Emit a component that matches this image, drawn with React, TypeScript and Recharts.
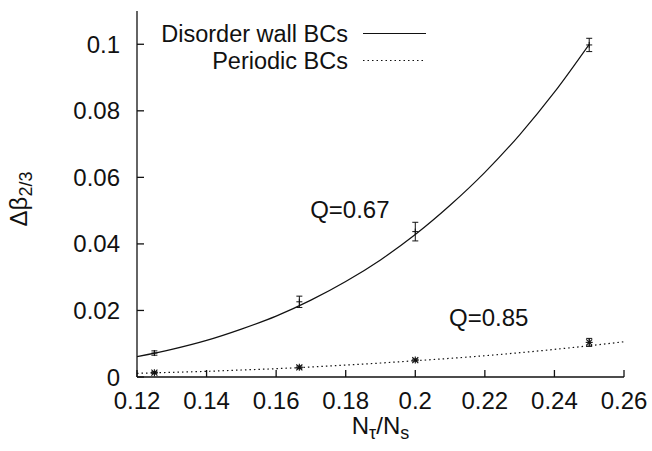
import {
  ComposedChart,
  ErrorBar,
  Label,
  Legend,
  Line,
  ReferenceDot,
  Scatter,
  XAxis,
  YAxis,
} from "recharts";

// N_tau / N_s of the simulated lattices
const latticeRatios = [0.125, 0.16667, 0.2, 0.25];

// Delta beta_{2/3} with disorder wall boundary conditions
const wallValues = [0.0072, 0.0226, 0.0437, 0.0998];
const wallErrors = [0.00065, 0.0017, 0.0028, 0.002];

// Delta beta_{2/3} with periodic boundary conditions
const periodicValues = [0.0013, 0.0029, 0.0051, 0.0104];
const periodicErrors = [0.0003, 0.0004, 0.0003, 0.0012];

// fitted curves, sampled along N_tau / N_s
const fitX = [0.12, 0.13, 0.14, 0.15, 0.16, 0.17, 0.18, 0.19, 0.2, 0.21, 0.22, 0.23, 0.24, 0.25, 0.26];
const wallFit = [0.0061, 0.0083, 0.011, 0.0144, 0.0183, 0.0231, 0.0287, 0.0352, 0.0428, 0.0516, 0.0615, 0.0728, 0.0856, 0.1];
const periodicFit = [0.0011, 0.0014, 0.0017, 0.0021, 0.0025, 0.003, 0.0036, 0.0042, 0.0049, 0.0056, 0.0064, 0.0073, 0.0083, 0.0094, 0.0106];

const xTicks = [0.12, 0.14, 0.16, 0.18, 0.2, 0.22, 0.24, 0.26];
const yTicks = [0, 0.02, 0.04, 0.06, 0.08, 0.1];

const seriesNames = ["Disorder wall BCs", "Periodic BCs"];

const fitQuality = [
  { x: 0.1812, y: 0.0477, text: "Q=0.67" },
  { x: 0.2211, y: 0.0153, text: "Q=0.85" },
];

const FONT = '"Liberation Sans", Arial, Helvetica, sans-serif';
const INK = "#111";

const wallPoints = latticeRatios.map((x, i) => ({ x, y: wallValues[i], err: wallErrors[i] }));
const periodicPoints = latticeRatios.map((x, i) => ({ x, y: periodicValues[i], err: periodicErrors[i] }));
const wallCurve = wallFit.map((y, i) => ({ x: fitX[i], y }));
const periodicCurve = periodicFit.map((y, i) => ({ x: fitX[i], y }));

const fmt = (v: number) => String(Number(v.toFixed(2)));
const blank = () => "";

function PlusMark({ cx, cy }: { cx?: number; cy?: number }) {
  if (cx == null || cy == null) return null;
  return (
    <g stroke={INK} strokeWidth={1}>
      <line x1={cx - 3} x2={cx + 3} y1={cy} y2={cy} />
      <line x1={cx} x2={cx} y1={cy - 3} y2={cy + 3} />
    </g>
  );
}

function StarMark({ cx, cy }: { cx?: number; cy?: number }) {
  if (cx == null || cy == null) return null;
  return (
    <g stroke={INK} strokeWidth={1.1}>
      <line x1={cx - 3.5} x2={cx + 3.5} y1={cy} y2={cy} />
      <line x1={cx} x2={cx} y1={cy - 3.5} y2={cy + 3.5} />
      <line x1={cx - 3} x2={cx + 3} y1={cy - 3} y2={cy + 3} />
      <line x1={cx - 3} x2={cx + 3} y1={cy + 3} y2={cy - 3} />
    </g>
  );
}

function XTitle({ viewBox }: any) {
  const cx = viewBox.x + viewBox.width / 2;
  return (
    <text x={cx} y={viewBox.y + 57} textAnchor="middle" fontFamily={FONT} fontSize={24} fill={INK}>
      N
      <tspan fontSize={18} dy={5}>τ</tspan>
      <tspan dy={-5}>/N</tspan>
      <tspan fontSize={18} dy={5}>s</tspan>
    </text>
  );
}

function YTitle({ viewBox }: any) {
  const x = viewBox.x - 50;
  const y = viewBox.y + viewBox.height / 2 + 5;
  return (
    <text
      x={x}
      y={y}
      transform={`rotate(-90, ${x}, ${y})`}
      textAnchor="middle"
      fontFamily={FONT}
      fontSize={24}
      fill={INK}
    >
      Δβ
      <tspan fontSize={18} dy={5}>2/3</tspan>
    </text>
  );
}

// gnuplot-style key: right-aligned names, line sample to the right
function KeyBox() {
  return (
    <svg width={290} height={64} style={{ display: "block" }}>
      <g fontFamily={FONT} fontSize={23.5} fill={INK} textAnchor="end">
        <text x={198} y={22}>{seriesNames[0]}</text>
        <text x={198} y={49}>{seriesNames[1]}</text>
      </g>
      <line x1={213} x2={276} y1={13.5} y2={13.5} stroke={INK} strokeWidth={1.2} />
      <line x1={213} x2={276} y1={40.5} y2={40.5} stroke={INK} strokeWidth={1.2} strokeDasharray="1.5 3" />
    </svg>
  );
}

function QNote({ cx, cy, text }: { cx?: number; cy?: number; text: string }) {
  if (cx == null || cy == null) return <g />;
  return (
    <text x={cx} y={cy} textAnchor="middle" fontFamily={FONT} fontSize={24} fill={INK}>
      {text}
    </text>
  );
}

export default function App() {
  const tickStyle = { fill: INK, fontSize: 24, fontFamily: FONT };
  const axisStroke = { stroke: INK, strokeWidth: 1.3 };

  return (
    <div style={{ position: "absolute", left: 0, top: 0, background: "#fff" }}>
      <ComposedChart width={652} height={451} margin={{ top: 11, right: 28, bottom: 14, left: 77 }}>
        <XAxis
          xAxisId="bottom"
          dataKey="x"
          type="number"
          domain={[0.12, 0.26]}
          ticks={xTicks}
          tickFormatter={fmt}
          tick={tickStyle}
          tickSize={-7}
          tickMargin={22}
          height={60}
          axisLine={axisStroke}
          tickLine={axisStroke}
          allowDataOverflow
        >
          <Label content={XTitle} />
        </XAxis>
        <XAxis
          xAxisId="top"
          orientation="top"
          type="number"
          domain={[0.12, 0.26]}
          ticks={xTicks}
          tickFormatter={blank}
          tickSize={-7}
          height={0}
          axisLine={axisStroke}
          tickLine={axisStroke}
          allowDataOverflow
        />
        <YAxis
          yAxisId="left"
          type="number"
          domain={[0, 0.11]}
          ticks={yTicks}
          tickFormatter={fmt}
          tick={tickStyle}
          tickSize={-7}
          tickMargin={24}
          width={60}
          axisLine={axisStroke}
          tickLine={axisStroke}
          allowDataOverflow
        >
          <Label content={YTitle} />
        </YAxis>
        <YAxis
          yAxisId="right"
          orientation="right"
          type="number"
          domain={[0, 0.11]}
          ticks={yTicks}
          tickFormatter={blank}
          tickSize={-7}
          width={0}
          axisLine={axisStroke}
          tickLine={axisStroke}
          allowDataOverflow
        />

        <Legend
          layout="vertical"
          align="center"
          verticalAlign="middle"
          content={KeyBox}
          wrapperStyle={{ position: "absolute", left: 150, top: 20, width: 290, height: 64 }}
        />

        <Line
          xAxisId="bottom"
          yAxisId="left"
          data={wallCurve}
          dataKey="y"
          type="monotone"
          stroke={INK}
          strokeWidth={1.2}
          dot={false}
          activeDot={false}
          isAnimationActive={false}
        />
        <Line
          xAxisId="bottom"
          yAxisId="left"
          data={periodicCurve}
          dataKey="y"
          type="monotone"
          stroke={INK}
          strokeWidth={1.2}
          strokeDasharray="1.5 3"
          dot={false}
          activeDot={false}
          isAnimationActive={false}
        />

        <Scatter
          xAxisId="bottom"
          yAxisId="left"
          data={wallPoints}
          dataKey="y"
          shape={PlusMark}
          isAnimationActive={false}
        >
          <ErrorBar dataKey="err" direction="y" width={3} stroke={INK} strokeWidth={1} />
        </Scatter>
        <Scatter
          xAxisId="bottom"
          yAxisId="left"
          data={periodicPoints}
          dataKey="y"
          shape={StarMark}
          isAnimationActive={false}
        >
          <ErrorBar dataKey="err" direction="y" width={3} stroke={INK} strokeWidth={1} />
        </Scatter>

        {fitQuality.map((q) => (
          <ReferenceDot
            key={q.text}
            xAxisId="bottom"
            yAxisId="left"
            x={q.x}
            y={q.y}
            r={0}
            ifOverflow="visible"
            shape={(p: any) => <QNote cx={p.cx} cy={p.cy} text={q.text} />}
          />
        ))}
      </ComposedChart>
    </div>
  );
}
